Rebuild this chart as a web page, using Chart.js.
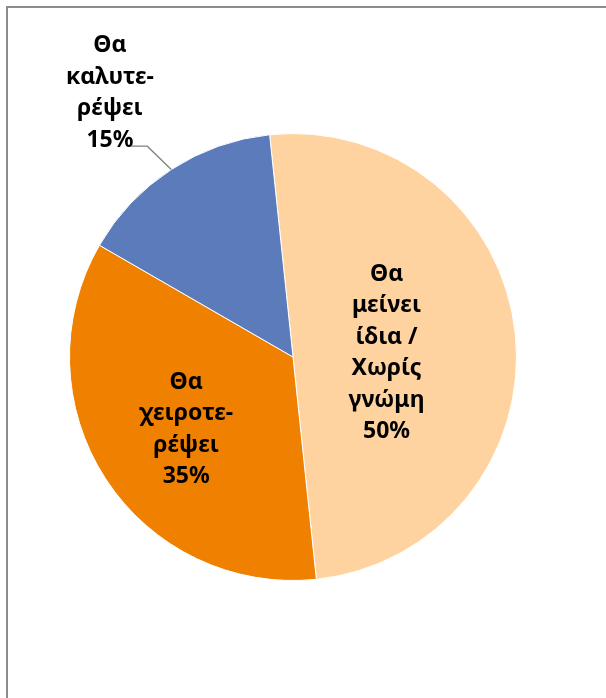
<!DOCTYPE html>
<html>
<head>
<meta charset="utf-8">
<script src="https://cdn.jsdelivr.net/npm/chart.js@4.4.0/dist/chart.umd.min.js"></script>
<style>
    html, body { margin: 0; padding: 0; background: #fff; overflow: hidden; }
    #wrap { position: relative; width: 606px; height: 698px; }
    #frame {
        position: absolute; left: 6px; top: 6px;
        width: 640px; height: 740px;
        border: 2px solid #8c8c8c;
        box-sizing: border-box;
    }
    canvas { position: absolute; left: 0; top: 0; }
</style>
</head>
<body>
<div id="wrap">
    <div id="frame"></div>
    <canvas id="pieChart" width="606" height="698"></canvas>
</div>
<script>
// data
const categories = ['Θα μείνει ίδια / Χωρίς γνώμη', 'Θα χειροτερέψει', 'Θα καλυτερέψει'];
const labelLines = [
    ['Θα', 'μείνει', 'ίδια /', 'Χωρίς', 'γνώμη'],
    ['Θα', 'χειροτε-', 'ρέψει'],
    ['Θα', 'καλυτε-', 'ρέψει']
];
const values = [50, 35, 15];
const colors = ['#FFD3A0', '#EF8000', '#5B7BBB'];

document.addEventListener('DOMContentLoaded', function() {

    // draws the data labels, the small slice gets its label outside with a leader line
    const sliceLabels = {
        id: 'sliceLabels',
        afterDatasetsDraw(chart) {
            const ctx = chart.ctx;
            const meta = chart.getDatasetMeta(0);
            const total = values.reduce((a, b) => a + b, 0);
            ctx.save();
            ctx.font = 'bold 23px "Noto Sans", sans-serif';
            ctx.fillStyle = '#000';
            ctx.textAlign = 'center';
            ctx.textBaseline = 'middle';
            const lineH = 31.5;
            const placement = [0.43, 0.57, 1.43];
            const nudge = [[-2, 6], [0, 3], [-9, 4]];

            meta.data.forEach((arc, i) => {
                const p = arc.getProps(['x', 'y', 'startAngle', 'endAngle', 'outerRadius'], true);
                const mid = (p.startAngle + p.endAngle) / 2;
                const r = p.outerRadius * placement[i];
                const cx = p.x + Math.cos(mid) * r + nudge[i][0];
                const cy = p.y + Math.sin(mid) * r + nudge[i][1];
                const lines = labelLines[i].concat([Math.round(values[i] / total * 100) + '%']);
                const top = cy - (lines.length - 1) * lineH / 2;
                lines.forEach((t, k) => ctx.fillText(t, cx, top + k * lineH));

                if (i === 2) {
                    // leader line from slice edge to the label
                    const ex = p.x + Math.cos(mid) * p.outerRadius;
                    const ey = p.y + Math.sin(mid) * p.outerRadius;
                    const ly = top + 3 * lineH + 6;
                    ctx.strokeStyle = '#808080';
                    ctx.lineWidth = 1.3;
                    ctx.beginPath();
                    ctx.moveTo(ex, ey);
                    ctx.lineTo(ex - 24, ly);
                    ctx.lineTo(ex - 40, ly);
                    ctx.stroke();
                }
            });
            ctx.restore();
        }
    };

    const ctx = document.getElementById('pieChart').getContext('2d');
    new Chart(ctx, {
        type: 'pie',
        data: {
            labels: categories,
            datasets: [{
                data: values,
                backgroundColor: colors,
                borderColor: '#ffffff',
                borderWidth: 1
            }]
        },
        options: {
            responsive: false,
            animation: false,
            rotation: -6,
            layout: {
                padding: { left: 69, right: 89, top: 133, bottom: 117 }
            },
            plugins: {
                legend: { display: false },
                tooltip: { enabled: false }
            }
        },
        plugins: [sliceLabels]
    });
});
</script>
</body>
</html>
